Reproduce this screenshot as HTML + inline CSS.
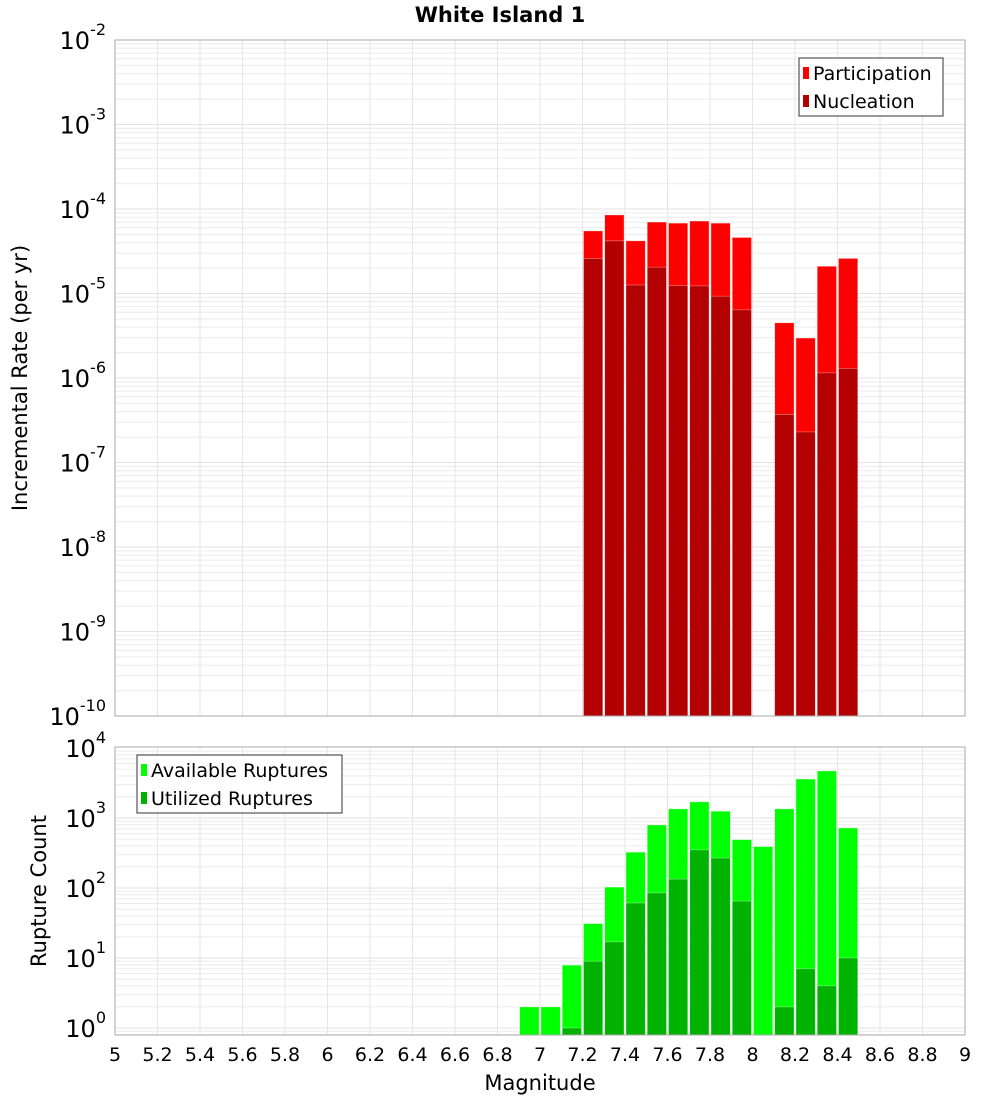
<!DOCTYPE html>
<html><head><meta charset="utf-8"><style>
body{margin:0;background:#fff;font-family:"Liberation Sans","DejaVu Sans",sans-serif}
svg text{font-family:"DejaVu Sans","Liberation Sans",sans-serif}
</style></head><body>
<svg id="chart" width="1000" height="1100" xmlns="http://www.w3.org/2000/svg">
<text x="500" y="22" text-anchor="middle" font-size="21" font-weight="bold">White Island 1</text>
<g id="top"></g><g id="bot"></g>
<text x="540" y="1090" text-anchor="middle" font-size="21">Magnitude</text>
<text transform="translate(27,378) rotate(-90)" text-anchor="middle" font-size="21">Incremental Rate (per yr)</text>
<text transform="translate(46,891) rotate(-90)" text-anchor="middle" font-size="21">Rupture Count</text>
</svg>
<script>
const mags=[6.9,7.0,7.1,7.2,7.3,7.4,7.5,7.6,7.7,7.8,7.9,8.0,8.1,8.2,8.3,8.4];
const participation=[0,0,0,5.5e-5,8.5e-5,4.2e-5,7e-5,6.8e-5,7.2e-5,6.8e-5,4.6e-5,0,4.5e-6,2.97e-6,2.1e-5,2.6e-5];
const nucleation=[0,0,0,2.6e-5,4.2e-5,1.26e-5,2.05e-5,1.24e-5,1.23e-5,9.3e-6,6.4e-6,0,3.7e-7,2.3e-7,1.15e-6,1.3e-6];
const available=[2,2,7.9,31,103,325,795,1350,1700,1250,490,390,1350,3600,4700,720];
const utilized=[0,0,1,9,17,61,85,134,350,268,65,0,2,7,4,10];
const xTicks=["5","5.2","5.4","5.6","5.8","6","6.2","6.4","6.6","6.8","7","7.2","7.4","7.6","7.8","8","8.2","8.4","8.6","8.8","9"];
const NS="http://www.w3.org/2000/svg";
const X0=115,X1=965;
const xs=m=>X0+(m-5)/4*(X1-X0);
function el(p,t,a){const e=document.createElementNS(NS,t);for(const k in a)e.setAttribute(k,a[k]);p.appendChild(e);return e;}
function panel(g,top,bot,lo,hi,ys,nm){
  // grid
  for(let d=lo;d<hi;d++)for(let k=1;k<10;k++){const y=ys(k*Math.pow(10,d));if(y<top||y>bot)continue;
    const l=el(g,'line',{x1:X0,x2:X1,y1:y,y2:y,stroke:k==1?'#e2e2e2':'#ececec','stroke-width':1});
    }
  for(let i=1;i<20;i++){const x=xs(5+i*0.2);const l=el(g,'line',{x1:x,x2:x,y1:top,y2:bot,stroke:'#e6e6e6'});
    }
}
function bars(g,vals,ys,bot,col,nm){
  vals.forEach((v,i)=>{if(!(v>0))return;const x=xs(mags[i])+1,w=xs(mags[i]+0.1)-xs(mags[i])-2;const y=ys(v);
    const r=el(g,'rect',{x:x,y:y,width:w,height:bot-y,fill:col,stroke:'#fff','stroke-opacity':0.5,'stroke-width':0.6});
    });
}
function frame(g,top,bot,nm){const r=el(g,'rect',{x:X0,y:top,width:X1-X0,height:bot-top,fill:'none',stroke:'#aaa'});
  }
function ylabel(g,y,exp,nm){const t=el(g,'text',{x:106,y:y+9,'text-anchor':'end','font-size':24});
  
  t.textContent='10';const s=el(t,'tspan',{dy:-14,'font-size':16});s.textContent=exp;}
function legend(g,x,y,w,items,nm){const b=el(g,'rect',{x:x,y:y,width:w,height:58,fill:'#fff',stroke:'#333'});
  
  items.forEach((it,i)=>{const yy=y+15+i*28;const s=el(g,'rect',{x:x+4,y:yy-6,width:6,height:12,fill:it[1]});
    
    const t=el(g,'text',{x:x+14,y:yy+7,'font-size':19});t.textContent=it[0];
    });}
// top panel
const gt=document.getElementById('top');const T0=40,T1=716;
const yt=v=>T1-(Math.log10(v)+10)*(T1-T0)/8;
panel(gt,T0,T1,-10,-2,yt,'top');
bars(gt,participation,yt,T1,'#ff0000','participation');
bars(gt,nucleation,yt,T1,'#b30000','nucleation');
frame(gt,T0,T1,'top');
for(let d=-10;d<=-2;d++)ylabel(gt,yt(Math.pow(10,d)),String(d),'top');
legend(gt,799,58,144,[['Participation','#ff0000'],['Nucleation','#b30000']],'top');
// bottom panel
const gb=document.getElementById('bot');const B0=747,B1=1035;
const yb=v=>1028-Math.log10(v)*70;
panel(gb,B0,B1,-1,4,yb,'bottom');
bars(gb,available,yb,B1,'#00ff00','available');
bars(gb,utilized,yb,B1,'#00b300','utilized');
frame(gb,B0,B1,'bottom');
for(let d=0;d<=4;d++)ylabel(gb,yb(Math.pow(10,d)),String(d),'bottom');
legend(gb,137,755,205,[['Available Ruptures','#00ff00'],['Utilized Ruptures','#00b300']],'bottom');
xTicks.forEach((s,i)=>{const t=el(gb,'text',{x:xs(5+i*0.2),y:1061,'text-anchor':'middle','font-size':19});t.textContent=s;
  });
</script>
</body></html>
